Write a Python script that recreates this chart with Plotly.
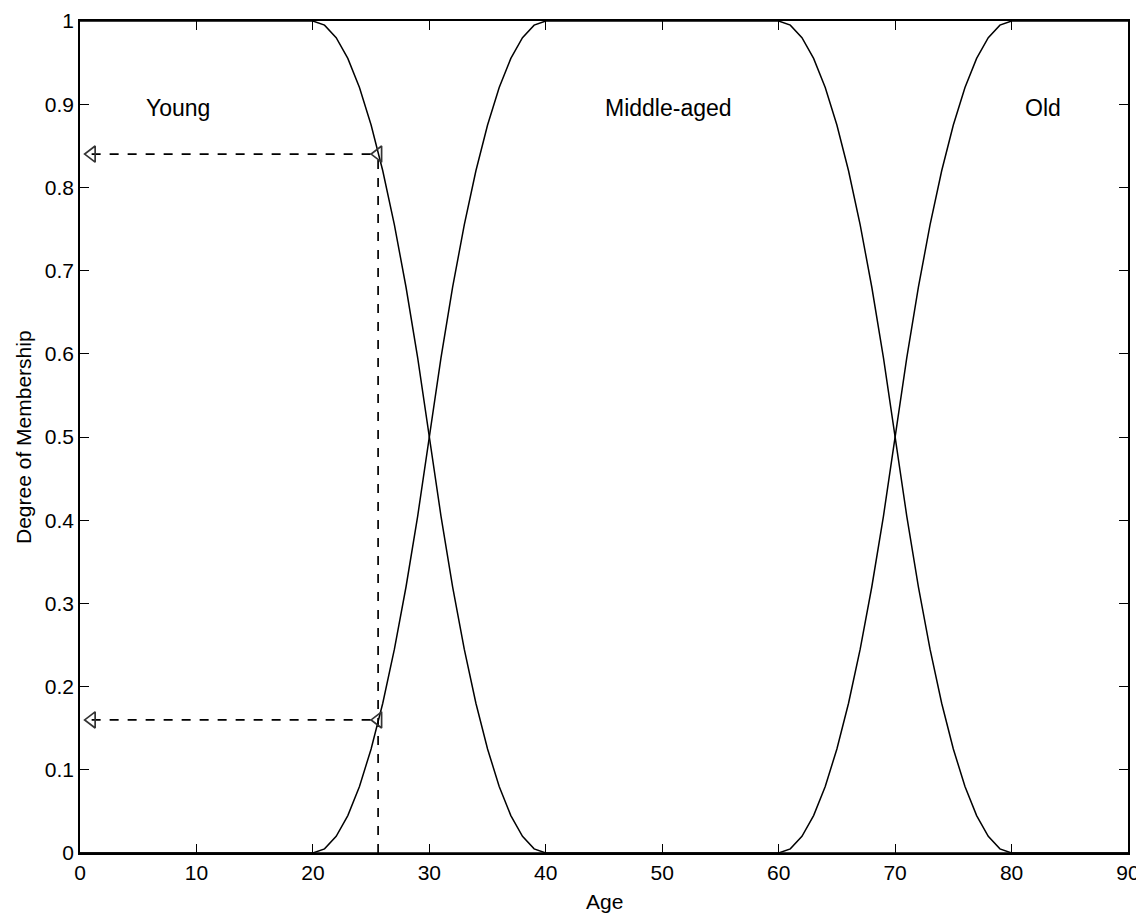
import plotly.graph_objects as go

# Membership curves
young_age = [0, 20, 21, 22, 23, 24, 25, 26, 27, 28, 29, 30, 31, 32, 33, 34, 35, 36, 37, 38, 39, 40, 90]
young_mu = [1, 1, 0.995, 0.98, 0.955, 0.92, 0.875, 0.82, 0.755, 0.68, 0.595, 0.5,
            0.405, 0.32, 0.245, 0.18, 0.125, 0.08, 0.045, 0.02, 0.005, 0, 0]

middle_age = [0, 20, 21, 22, 23, 24, 25, 26, 27, 28, 29, 30, 31, 32, 33, 34, 35, 36, 37, 38, 39, 40,
              60, 61, 62, 63, 64, 65, 66, 67, 68, 69, 70, 71, 72, 73, 74, 75, 76, 77, 78, 79, 80, 90]
middle_mu = [0, 0, 0.005, 0.02, 0.045, 0.08, 0.125, 0.18, 0.245, 0.32, 0.405, 0.5,
             0.595, 0.68, 0.755, 0.82, 0.875, 0.92, 0.955, 0.98, 0.995, 1,
             1, 0.995, 0.98, 0.955, 0.92, 0.875, 0.82, 0.755, 0.68, 0.595, 0.5,
             0.405, 0.32, 0.245, 0.18, 0.125, 0.08, 0.045, 0.02, 0.005, 0, 0]

old_age = [0, 60, 61, 62, 63, 64, 65, 66, 67, 68, 69, 70, 71, 72, 73, 74, 75, 76, 77, 78, 79, 80, 90]
old_mu = [0, 0, 0.005, 0.02, 0.045, 0.08, 0.125, 0.18, 0.245, 0.32, 0.405, 0.5,
          0.595, 0.68, 0.755, 0.82, 0.875, 0.92, 0.955, 0.98, 0.995, 1, 1]

# Example reading at age ~25.6
sample_age = 25.6
sample_young = 0.84
sample_middle = 0.16
arrow_age = 1.0

labels = ["Young", "Middle-aged", "Old"]
label_x = [8.4, 50.5, 82.7]
label_y = [0.895, 0.895, 0.895]

x_ticks = [0, 10, 20, 30, 40, 50, 60, 70, 80, 90]
y_ticks = [0, 0.1, 0.2, 0.3, 0.4, 0.5, 0.6, 0.7, 0.8, 0.9, 1]
y_tick_text = ["0", "0.1", "0.2", "0.3", "0.4", "0.5", "0.6", "0.7", "0.8", "0.9", "1"]

FONT = "Liberation Sans, Arial, Helvetica, sans-serif"
LINE = dict(color="black", width=1.5)
DASH = dict(color="black", width=1.7, dash="dash")

fig = go.Figure()
for xs, ys in [(young_age, young_mu), (middle_age, middle_mu), (old_age, old_mu)]:
    fig.add_trace(go.Scatter(x=xs, y=ys, mode="lines", line=LINE, hoverinfo="skip"))

# dashed guide lines
fig.add_trace(go.Scatter(x=[sample_age, sample_age], y=[0, sample_young], mode="lines", line=DASH))
for yv in [sample_young, sample_middle]:
    fig.add_trace(go.Scatter(x=[arrow_age, sample_age], y=[yv, yv], mode="lines+markers", line=DASH,
                             marker=dict(symbol="triangle-left-open", size=14,
                                         color="#333333", line=dict(width=1.7))))

for t, x, y in zip(labels, label_x, label_y):
    fig.add_annotation(x=x, y=y, text=t, showarrow=False, xanchor="center", yanchor="middle",
                       font=dict(family=FONT, size=23, color="black"))

# axis titles
fig.add_annotation(xref="paper", yref="paper", x=0.5, y=0, yshift=-48, text="Age",
                   showarrow=False, xanchor="center", yanchor="middle",
                   font=dict(family=FONT, size=21, color="black"))
fig.add_annotation(xref="paper", yref="paper", x=0, y=0.5, xshift=-57, text="Degree of Membership",
                   textangle=-90, showarrow=False, xanchor="center", yanchor="middle",
                   font=dict(family=FONT, size=21, color="black"))

axis_common = dict(showgrid=False, zeroline=False, showline=True, linecolor="black", linewidth=1.6,
                   mirror="ticks", ticks="inside", ticklen=9, tickwidth=1.4, tickcolor="black",
                   automargin=False, ticklabeloverflow="allow",
                   tickfont=dict(family=FONT, size=21, color="black"))

fig.update_layout(
    width=1136, height=908,
    margin=dict(l=72, r=16, t=13, b=63),
    paper_bgcolor="white", plot_bgcolor="white",
    showlegend=False,
    xaxis=dict(range=[0, 90], tickvals=x_ticks, ticktext=[str(v) for v in x_ticks], **axis_common),
    yaxis=dict(range=[0, 1], tickvals=y_ticks, ticktext=y_tick_text, **axis_common),
)

fig.write_html("out.html")
